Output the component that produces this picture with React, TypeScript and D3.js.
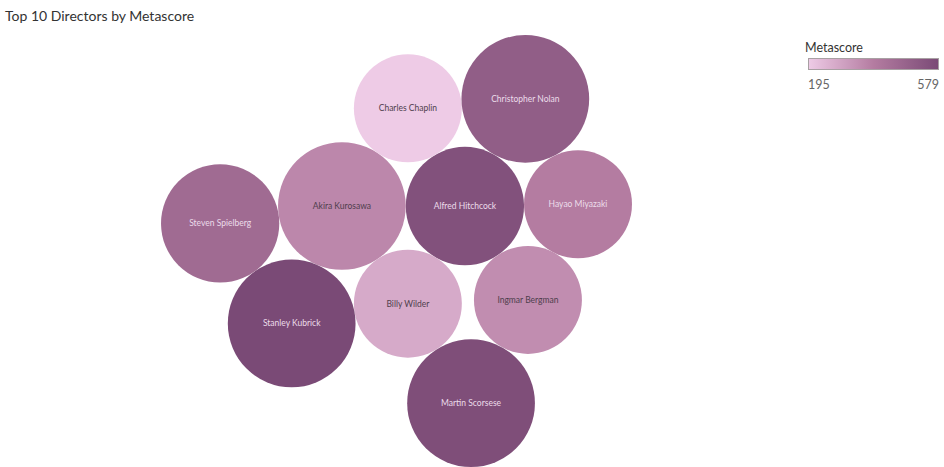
import * as d3 from "d3";
import React, { useEffect, useRef } from "react";

// order matters: each bubble is packed against bubbles listed before it
const directors = [
  "Alfred Hitchcock",
  "Akira Kurosawa",
  "Billy Wilder",
  "Charles Chaplin",
  "Christopher Nolan",
  "Hayao Miyazaki",
  "Ingmar Bergman",
  "Stanley Kubrick",
  "Martin Scorsese",
  "Steven Spielberg",
];
const metascore = [553, 360, 276, 195, 502, 387, 345, 579, 564, 452];
// bubble size measure (not labelled in the chart)
const bubbleSize = [6, 7, 5, 5, 7, 5, 5, 7, 7, 6];

// which two earlier bubbles each one rests on, and on which side of that pair
const restsOn: ([number] | [number, number, number])[] = [
  [0],
  [1, 0, 1],
  [1, 0, -1],
  [3, 0, -1],
  [4, 0, -1],
  [5, 0, -1],
  [1, 2, 1],
  [2, 6, 1],
  [1, 7, 1],
];

const W = 944;
const H = 467;
const plot = { left: 0, right: 793, top: 35, bottom: 467 };
const FONT = "Lato, 'Noto Sans', sans-serif";

function tangent(a, b, r, side) {
  const dx = b.x - a.x, dy = b.y - a.y;
  const d = Math.hypot(dx, dy);
  const ra = a.r + r, rb = b.r + r;
  const along = (d * d + ra * ra - rb * rb) / (2 * d);
  const h = Math.sqrt(Math.max(0, ra * ra - along * along));
  const ux = dx / d, uy = dy / d;
  return { x: a.x + along * ux - side * h * uy, y: a.y + along * uy + side * h * ux };
}

function packBubbles(sizes) {
  const unit = d3.scaleSqrt().domain([0, 1]).range([0, 1]);
  const nodes = sizes.map((s, i) => ({ i, r: unit(s), x: 0, y: 0 }));
  restsOn.forEach((spec, k) => {
    const n = nodes[k + 1];
    const a = nodes[spec[0]];
    if (spec.length === 1) {
      n.x = a.x - a.r - n.r;
      n.y = a.y;
    } else {
      const p = tangent(a, nodes[spec[1]], n.r, spec[2]);
      n.x = p.x;
      n.y = p.y;
    }
  });
  return nodes;
}

const App = () => {
  const ref = useRef(null);

  useEffect(() => {
    document.body.style.margin = "0";
    const svg = d3.select(ref.current);
    svg.selectAll("*").remove();

    const nodes = packBubbles(bubbleSize);
    const x0 = d3.min(nodes, d => d.x - d.r), x1 = d3.max(nodes, d => d.x + d.r);
    const y0 = d3.min(nodes, d => d.y - d.r), y1 = d3.max(nodes, d => d.y + d.r);
    const k = Math.min((plot.right - plot.left) / (x1 - x0), (plot.bottom - plot.top) / (y1 - y0));
    const cx = (plot.left + plot.right) / 2, cy = (plot.top + plot.bottom) / 2;
    const sx = v => cx + (v - (x0 + x1) / 2) * k;
    const sy = v => cy + (v - (y0 + y1) / 2) * k;

    const ext = d3.extent(metascore);
    const color = d3.scaleLinear()
      .domain([ext[0], (ext[0] + ext[1]) / 2, ext[1]])
      .range(["#eecbe6", "#b47ca1", "#7a4a76"]);

    svg.append("text")
      .attr("x", 5)
      .attr("y", 21)
      .attr("font-family", FONT)
      .attr("font-size", 14)
      .attr("fill", "#333")
      .text("Top 10 Directors by Metascore");

    const g = svg.append("g");
    const bubble = g.selectAll("g.bubble")
      .data(nodes)
      .enter().append("g")
      .attr("transform", d => `translate(${sx(d.x)},${sy(d.y)})`);

    bubble.append("circle")
      .attr("r", d => d.r * k)
      .attr("fill", d => color(metascore[d.i]));

    bubble.append("text")
      .attr("text-anchor", "middle")
      .attr("dy", "0.35em")
      .attr("font-family", FONT)
      .attr("font-size", 8.5)
      .attr("fill", d => metascore[d.i] > 375 ? "#ecdcea" : "#4e3e4c")
      .text(d => directors[d.i]);

    // legend
    const lx = 808, lw = 131, ly = 58, lh = 12;
    const grad = svg.append("defs").append("linearGradient")
      .attr("id", "metaGrad");
    d3.range(0, 1.0001, 0.1).forEach(t => {
      grad.append("stop")
        .attr("offset", `${t * 100}%`)
        .attr("stop-color", color(ext[0] + t * (ext[1] - ext[0])));
    });
    svg.append("text")
      .attr("x", 805)
      .attr("y", 52)
      .attr("font-family", FONT)
      .attr("font-size", 12.5)
      .attr("fill", "#333")
      .text("Metascore");
    svg.append("rect")
      .attr("x", lx + 0.5)
      .attr("y", ly + 0.5)
      .attr("width", lw - 1)
      .attr("height", lh - 1)
      .attr("fill", "url(#metaGrad)")
      .attr("stroke", "#a8a0a3");
    const lScale = d3.scaleLinear().domain(ext).range([lx, lx + lw]);
    svg.append("text")
      .attr("x", lScale(ext[0]))
      .attr("y", 89)
      .attr("font-family", FONT)
      .attr("font-size", 12.5)
      .attr("fill", "#666")
      .text(ext[0]);
    svg.append("text")
      .attr("x", lScale(ext[1]))
      .attr("y", 89)
      .attr("text-anchor", "end")
      .attr("font-family", FONT)
      .attr("font-size", 12.5)
      .attr("fill", "#666")
      .text(ext[1]);
  }, []);

  return <svg ref={ref} width={W} height={H} style={{ display: "block", background: "#fff" }} />;
};

export default App;
